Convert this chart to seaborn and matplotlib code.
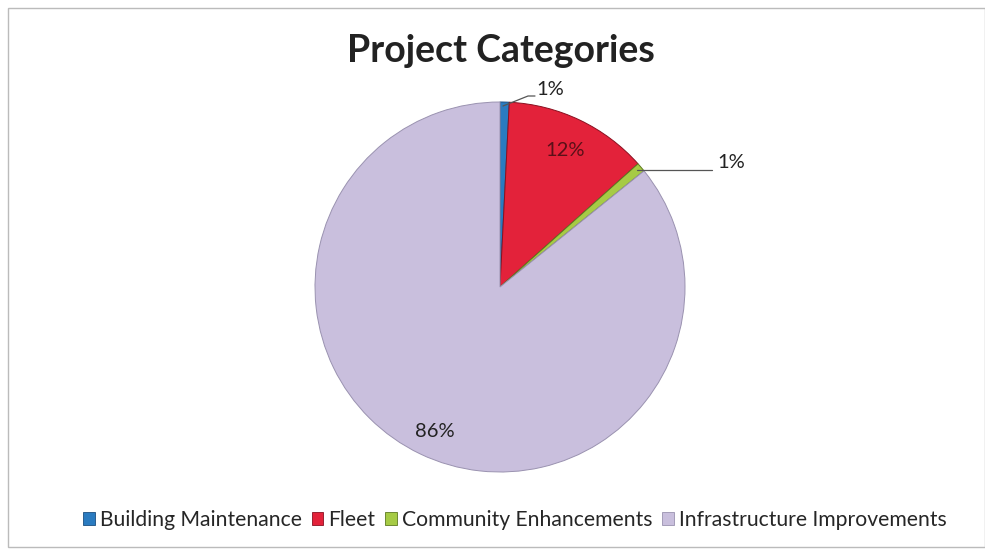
import matplotlib
matplotlib.use("Agg")
import matplotlib.pyplot as plt
import seaborn as sns
from matplotlib.patches import Rectangle, Patch

categories = ["Building Maintenance", "Fleet", "Community Enhancements", "Infrastructure Improvements"]
values = [0.8, 12.6, 0.8, 85.8]
labels = ["1%", "12%", "1%", "86%"]
colors = ["#2A7BC0", "#E3223A", "#A6CB45", "#C9BFDD"]
edge_colors = ["#1B4F80", "#8A1020", "#5E7A20", "#9A92B0"]

sns.set_theme(style="white")
plt.rcParams['font.family'] = ['Lato', 'DejaVu Sans']

W, H = 985, 552
fig = plt.figure(figsize=(W / 100, H / 100), dpi=100)
fig.patch.set_facecolor("white")

# chart frame
fig.add_artist(Rectangle((8 / W, 5 / H), (W - 8) / W, (H - 13) / H, transform=fig.transFigure,
                         fill=False, edgecolor="#BBBBBB", linewidth=1))

cx, cy, r = 500, 287, 185
ax = fig.add_axes([(cx - r) / W, (H - cy - r) / H, 2 * r / W, 2 * r / H])
wedges, _ = ax.pie(values, colors=colors, startangle=90, counterclock=False, radius=1,
                   wedgeprops=dict(linewidth=0.7))
for w, ec in zip(wedges, edge_colors):
    w.set_edgecolor(ec)
ax.set_xlim(-1, 1)
ax.set_ylim(-1, 1)
ax.set_aspect("equal")
ax.axis("off")

def d(px, py):
    return ((px - cx) / r, (cy - py) / r)

fs = 14.5
# Building Maintenance label with leader
ax.plot(*zip(d(503, 106), d(528, 96), d(535, 96)), color="#555555", lw=0.9, clip_on=False)
ax.text(*d(550, 89), labels[0], ha="center", va="center", fontsize=fs, color="#222222")
# Fleet label inside
ax.text(*d(565, 151), labels[1], ha="center", va="center", fontsize=fs, color="#5A1018")
# Community label with leader
ax.plot(*zip(d(637, 170), d(712, 170)), color="#555555", lw=0.9, clip_on=False)
ax.text(*d(731, 162), labels[2], ha="center", va="center", fontsize=fs, color="#222222")
# Infrastructure label
ax.text(*d(435, 432), labels[3], ha="center", va="center", fontsize=fs, color="#222222")

fig.text(501 / W, (H - 51) / H, "Project Categories", ha="center", va="center",
         fontsize=27, fontweight="bold", color="#222222")

handles = [Patch(facecolor=c, edgecolor=ec, linewidth=0.6) for c, ec in zip(colors, edge_colors)]
fig.legend(handles, categories, loc="center", bbox_to_anchor=(515 / W, (H - 520) / H), ncol=4,
           frameon=False, fontsize=15.2, handlelength=0.55, handleheight=0.55,
           handletextpad=0.25, columnspacing=0.45)

fig.savefig("out.png", dpi=100)
